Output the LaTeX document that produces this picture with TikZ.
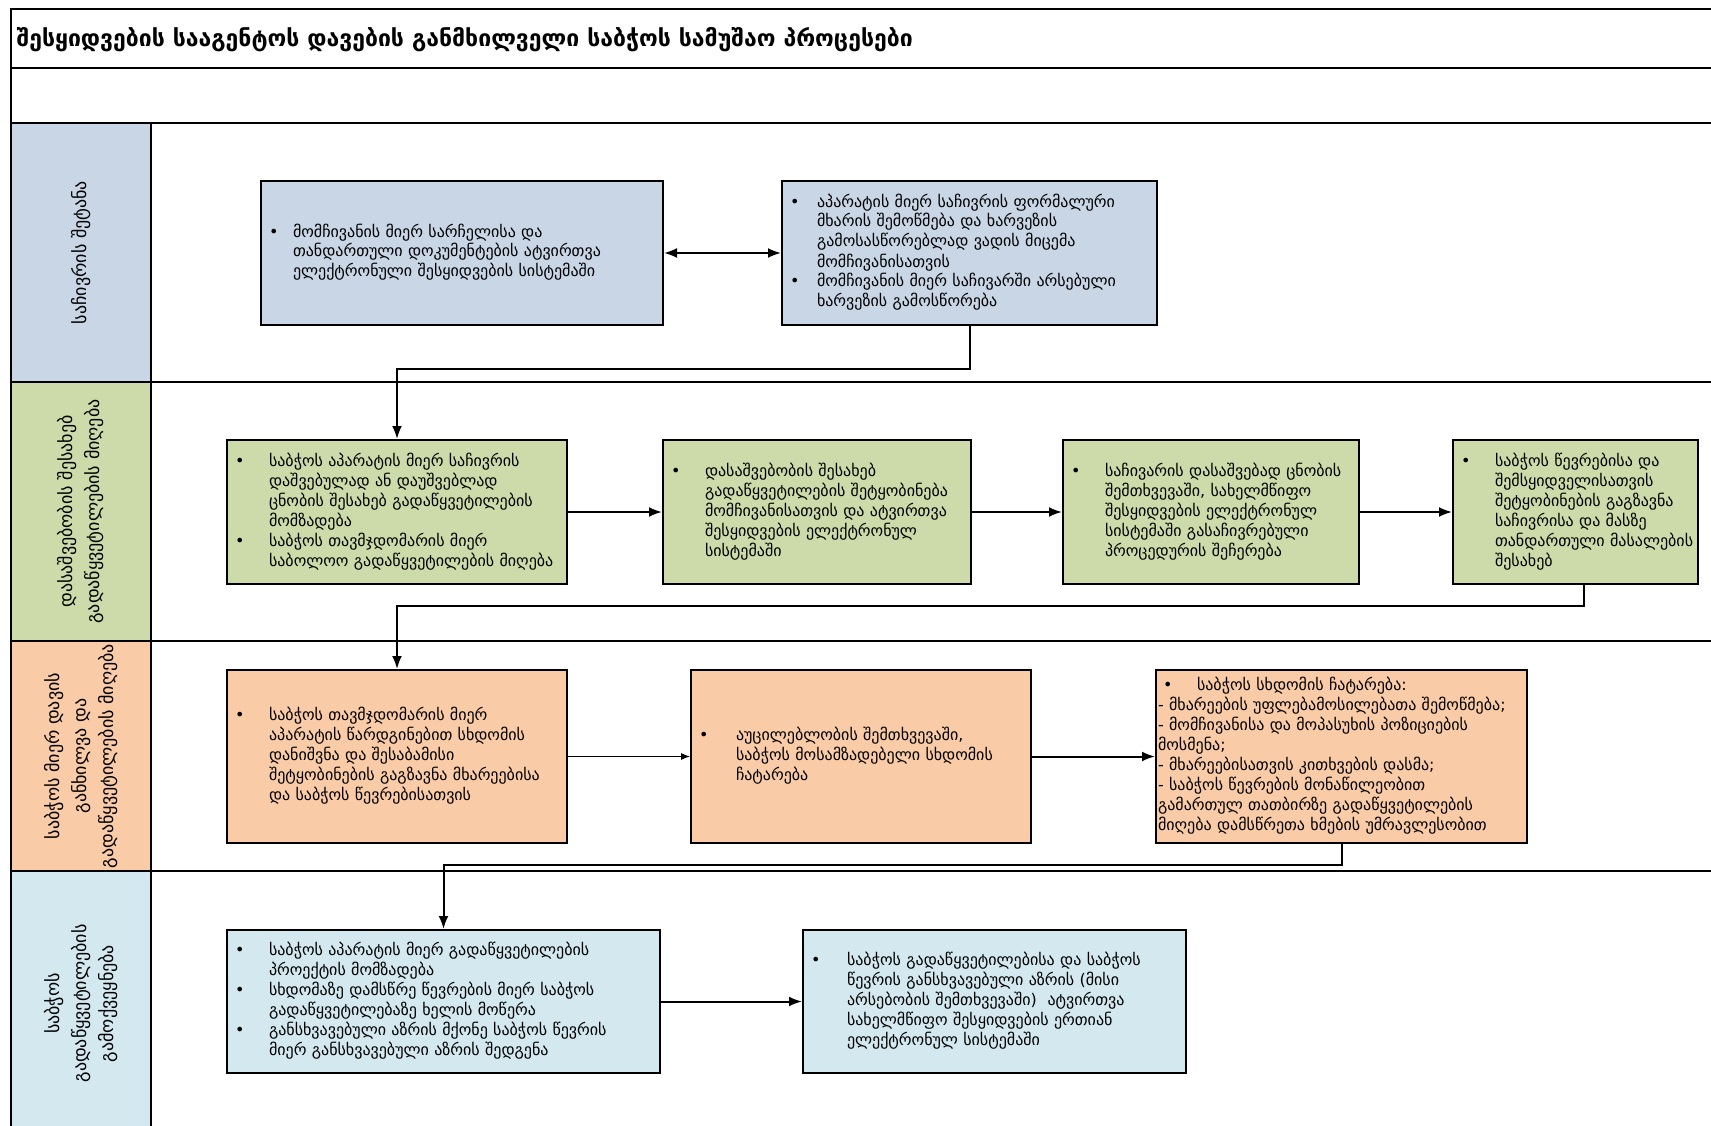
\documentclass[tikz,border=0pt]{standalone}
\usepackage{fontspec}
\setmainfont{DejaVu Sans}
\usetikzlibrary{arrows.meta}

\definecolor{laneblue}{HTML}{C9D6E6}
\definecolor{lanegreen}{HTML}{CCDBA9}
\definecolor{laneorange}{HTML}{F9CBA7}
\definecolor{lanecyan}{HTML}{D3E8EF}

\newenvironment{plist}[1][34pt]{\begin{tabular}{@{}p{#1}@{}l@{}}}{\end{tabular}}

\tikzset{
  procbox/.style={draw, line width=2pt, inner xsep=8pt, inner ysep=0pt, align=left,
    font=\fontsize{16}{20}\selectfont},
  lanecell/.style={draw, line width=2.5pt, rotate=90, minimum height=140pt, inner sep=0pt,
    align=center, font=\fontsize{18}{27}\selectfont},
  frame/.style={line width=2.5pt},
  flow/.style={->, line width=2pt},
}

\begin{document}
\begin{tikzpicture}[x=1pt, y=-1pt, >={Latex[length=13pt,width=10pt]}]
\useasboundingbox (0,0) rectangle (1711,1126);

\node[lanecell, fill=laneblue, minimum width=259pt] (l1) at (81,252.5) {საჩივრის შეტანა};
\node[lanecell, fill=lanegreen, minimum width=259pt] (l2) at (81,511.5)
  {დასაშვებობის შესახებ\\ გადაწყვეტილების მიღება};
\node[lanecell, fill=laneorange, minimum width=230pt] (l3) at (81,756)
  {საბჭოს მიერ დავის\\ განხილვა და\\ გადაწყვეტილების მიღება};
\node[lanecell, fill=lanecyan, minimum width=265pt] (l4) at (81,1003.5)
  {საბჭოს\\ გადაწყვეტილების\\ გამოქვეყნება};

\draw[frame] (11,1130) -- (11,9) -- (1715,9)
  (11,68) -- (1715,68) (11,123) -- (1715,123)
  (11,382) -- (1715,382) (11,641) -- (1715,641) (11,871) -- (1715,871);
\node[anchor=west, font=\fontsize{23}{27}\selectfont\bfseries] (title) at (13,40)
  {შესყიდვების სააგენტოს დავების განმხილველი საბჭოს სამუშაო პროცესები};

\node[procbox, fill=laneblue, text width=386pt, minimum height=144pt] (b1) at (462,253)
  {\begin{plist}[24pt]
   \textbullet & მომჩივანის მიერ სარჩელისა და\\
   & თანდართული დოკუმენტების ატვირთვა\\
   & ელექტრონული შესყიდვების სისტემაში
   \end{plist}};
\node[procbox, fill=laneblue, text width=359pt, minimum height=144pt] (b2) at (969.5,253)
  {\begin{plist}[27pt]
   \textbullet & აპარატის მიერ საჩივრის ფორმალური\\
   & მხარის შემოწმება და ხარვეზის\\
   & გამოსასწორებლად ვადის მიცემა\\
   & მომჩივანისათვის\\
   \textbullet & მომჩივანის მიერ საჩივარში არსებული\\
   & ხარვეზის გამოსწორება
   \end{plist}};

\node[procbox, fill=lanegreen, text width=324pt, minimum height=144pt] (b3) at (397,512)
  {\begin{plist}
   \textbullet & საბჭოს აპარატის მიერ საჩივრის\\
   & დაშვებულად ან დაუშვებლად\\
   & ცნობის შესახებ გადაწყვეტილების\\
   & მომზადება\\
   \textbullet & საბჭოს თავმჯდომარის მიერ\\
   & საბოლოო გადაწყვეტილების მიღება
   \end{plist}};
\node[procbox, fill=lanegreen, text width=292pt, minimum height=144pt] (b4) at (817,512)
  {\begin{plist}
   \textbullet & დასაშვებობის შესახებ\\
   & გადაწყვეტილების შეტყობინება\\
   & მომჩივანისათვის და ატვირთვა\\
   & შესყიდვების ელექტრონულ\\
   & სისტემაში
   \end{plist}};
\node[procbox, fill=lanegreen, text width=280pt, minimum height=144pt] (b5) at (1211,512)
  {\begin{plist}
   \textbullet & საჩივარის დასაშვებად ცნობის\\
   & შემთხვევაში, სახელმწიფო\\
   & შესყიდვების ელექტრონულ\\
   & სისტემაში გასაჩივრებული\\
   & პროცედურის შეჩერება
   \end{plist}};
\node[procbox, fill=lanegreen, text width=229pt, minimum height=144pt] (b6) at (1575.5,512)
  {\begin{plist}
   \textbullet & საბჭოს წევრებისა და\\
   & შემსყიდველისათვის\\
   & შეტყობინების გაგზავნა\\
   & საჩივრისა და მასზე\\
   & თანდართული მასალების\\
   & შესახებ
   \end{plist}};

\node[procbox, fill=laneorange, text width=324pt, minimum height=173pt] (b7) at (397,756.5)
  {\begin{plist}
   \textbullet & საბჭოს თავმჯდომარის მიერ\\
   & აპარატის წარდგინებით სხდომის\\
   & დანიშვნა და შესაბამისი\\
   & შეტყობინების გაგზავნა მხარეებისა\\
   & და საბჭოს წევრებისათვის
   \end{plist}};
\node[procbox, fill=laneorange, text width=324pt, minimum height=173pt] (b8) at (861,756.5)
  {\begin{plist}[37pt]
   \textbullet & აუცილებლობის შემთხვევაში,\\
   & საბჭოს მოსამზადებელი სხდომის\\
   & ჩატარება
   \end{plist}};
\node[procbox, fill=laneorange, inner xsep=2pt, text width=367pt, minimum height=173pt] (b9) at (1341.5,756.5)
  {\begin{tabular}{@{}l@{}}
   \hspace*{5pt}\makebox[34pt][l]{\textbullet}საბჭოს სხდომის ჩატარება:\\
   - მხარეების უფლებამოსილებათა შემოწმება;\\
   - მომჩივანისა და მოპასუხის პოზიციების\\
   მოსმენა;\\
   - მხარეებისათვის კითხვების დასმა;\\
   - საბჭოს წევრების მონაწილეობით\\
   გამართულ თათბირზე გადაწყვეტილების\\
   მიღება დამსწრეთა ხმების უმრავლესობით
   \end{tabular}};

\node[procbox, fill=lanecyan, text width=417pt, minimum height=143pt] (b10) at (443.5,1001.5)
  {\begin{plist}
   \textbullet & საბჭოს აპარატის მიერ გადაწყვეტილების\\
   & პროექტის მომზადება\\
   \textbullet & სხდომაზე დამსწრე წევრების მიერ საბჭოს\\
   & გადაწყვეტილებაზე ხელის მოწერა\\
   \textbullet & განსხვავებული აზრის მქონე საბჭოს წევრის\\
   & მიერ განსხვავებული აზრის შედგენა
   \end{plist}};
\node[procbox, fill=lanecyan, text width=367pt, minimum height=143pt] (b11) at (994.5,1001.5)
  {\begin{plist}[36pt]
   \textbullet & საბჭოს გადაწყვეტილებისა და საბჭოს\\
   & წევრის განსხვავებული აზრის (მისი\\
   & არსებობის შემთხვევაში)\ \ ატვირთვა\\
   & სახელმწიფო შესყიდვების ერთიან\\
   & ელექტრონულ სისტემაში
   \end{plist}};

\draw[flow, <->] (b1) -- (b2);
\draw[flow] (b2.south) -- ++(0,43) -| (b3.north);
\draw[flow] (b3) -- (b4);
\draw[flow] (b4) -- (b5);
\draw[flow] (b5) -- (b6);
\draw[flow] ([xshift=8pt]b6.south) -- ++(0,21) -| (b7.north);
\draw[-{Latex[length=9pt,width=7pt]}, line width=1pt] (b7) -- (b8);
\draw[flow] (b8) -- (b9);
\draw[flow] (b9.south) -- ++(0,21) -| (b10.north);
\draw[flow] (b10) -- (b11);
\end{tikzpicture}
\end{document}
